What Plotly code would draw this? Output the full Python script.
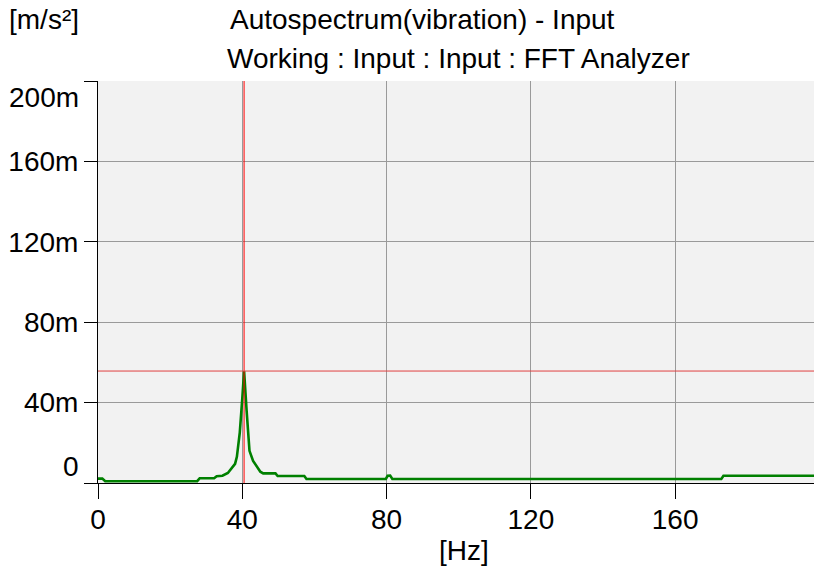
import plotly.graph_objects as go

# Spectrum breakpoints (Hz) and amplitudes (m/s^2)
freq_hz = [0, 1.2, 2.0, 27.5, 28.2, 32.2, 32.9, 34.5, 36.0, 37.0, 38.0, 38.5, 39.3,
           40.0, 40.5, 41.2, 42.0, 43.0, 44.0, 45.0, 45.8, 49.2, 49.8, 57.2, 57.8,
           79.8, 80.3, 81.0, 81.6, 172.8, 173.4, 198.5]
amp_mps2 = [0.0022, 0.0022, 0.0009, 0.0009, 0.0024, 0.0024, 0.0034, 0.0036, 0.0050,
            0.0070, 0.0095, 0.0130, 0.0250, 0.0420, 0.0557, 0.0360, 0.0160, 0.0110,
            0.0080, 0.0056, 0.0048, 0.0048, 0.0035, 0.0035, 0.0020, 0.0020, 0.0036,
            0.0037, 0.0020, 0.0020, 0.0036, 0.0036]

cursor_freq = 40.5
cursor_value = 0.0557

x_ticks = [0, 40, 80, 120, 160]
x_labels = ["0", "40", "80", "120", "160"]
y_ticks = [0, 0.04, 0.08, 0.12, 0.16, 0.2]
y_labels = ["0", "40m", "80m", "120m", "160m", "200m"]

FONT = "Arial, Liberation Sans, sans-serif"
FS = 28

fig = go.Figure()
fig.add_trace(go.Scatter(x=freq_hz, y=amp_mps2, mode="lines",
                         line=dict(color="#008000", width=2.6), hoverinfo="skip"))

fig.add_shape(type="line", xref="x", yref="paper", x0=cursor_freq, x1=cursor_freq,
              y0=0, y1=1, line=dict(color="#ff0000", width=1))
fig.add_shape(type="line", xref="paper", yref="y", x0=0, x1=1, y0=cursor_value,
              y1=cursor_value, line=dict(color="#e04040", width=1))

W, H = 814, 567
L, T, B = 98, 81, 84
pw, ph = W - L, H - T - B

def px(xp):
    return (xp - L) / pw

def py(yp):
    return (H - B - yp) / ph

mid_labels = [t if t not in ("0", "200m") else "" for t in y_labels]

fig.update_layout(
    width=W, height=H,
    margin=dict(l=L, r=0, t=T, b=B, pad=0),
    paper_bgcolor="white", plot_bgcolor="#f2f2f2",
    showlegend=False,
    font=dict(family=FONT, size=FS, color="black"),
    xaxis=dict(range=[0, 198.5], tickvals=x_ticks, ticktext=x_labels,
               showgrid=True, gridcolor="#9a9a9a", gridwidth=1,
               showline=True, linecolor="black", linewidth=1,
               ticks="outside", ticklen=15, tickcolor="black", tickwidth=1,
               ticklabelstandoff=-4,
               zeroline=False, tickfont=dict(family=FONT, size=FS)),
    yaxis=dict(range=[0, 0.2], tickvals=y_ticks, ticktext=mid_labels,
               showgrid=True, gridcolor="#9a9a9a", gridwidth=1,
               showline=True, linecolor="black", linewidth=1,
               ticks="outside", ticklen=13, tickcolor="black", tickwidth=1,
               zeroline=False, tickfont=dict(family=FONT, size=FS)),
)

ann = [
    dict(text="Autospectrum(vibration) - Input", x=px(422.5), y=py(20),
         xanchor="center", yanchor="middle"),
    dict(text="Working : Input : Input : FFT Analyzer", x=px(458), y=py(58),
         xanchor="center", yanchor="middle"),
    dict(text="[m/s²]", x=px(7), y=py(20), xanchor="left", yanchor="middle"),
    dict(text="[Hz]", x=px(464), y=py(550), xanchor="center", yanchor="middle"),
    dict(text=y_labels[0], x=px(81), y=py(466), xanchor="right", yanchor="middle"),
    dict(text=y_labels[-1], x=px(81), y=py(97), xanchor="right", yanchor="middle"),
]
for a in ann:
    fig.add_annotation(xref="paper", yref="paper", showarrow=False,
                       font=dict(family=FONT, size=FS, color="black"), **a)

fig.write_html("out.html")
